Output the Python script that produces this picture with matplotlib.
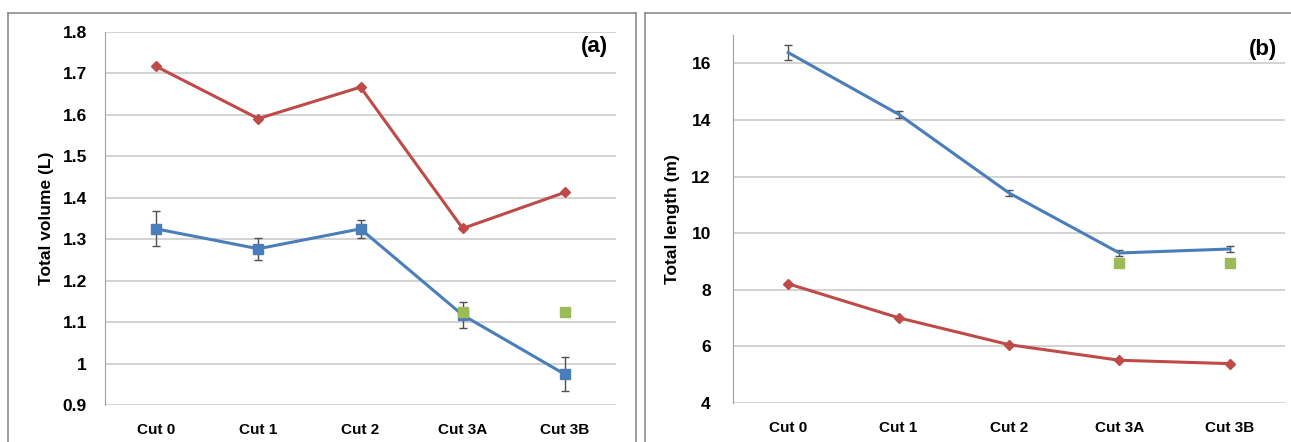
import matplotlib
matplotlib.use("Agg")
import matplotlib.pyplot as plt
from matplotlib.lines import Line2D
import numpy as np

cats = ["Cut 0", "Cut 1", "Cut 2", "Cut 3A", "Cut 3B"]

vol_red = [1.717, 1.591, 1.667, 1.326, 1.413]
vol_blue = [1.325, 1.277, 1.325, 1.117, 0.974]
vol_blue_err = [0.042, 0.027, 0.022, 0.031, 0.041]
vol_green = [None, None, None, 1.125, 1.125]

len_red = [8.21, 7.01, 6.06, 5.51, 5.39]
len_blue = [16.38, 14.2, 11.42, 9.30, 9.44]
len_blue_err = [0.26, 0.12, 0.10, 0.12, 0.12]
len_green = [None, None, None, 8.94, 8.94]

RED = "#BE4B48"
BLUE = "#4A7EBB"
GREEN = "#9BBB59"
GRID = "#D0D0D0"

plt.rcParams['font.family'] = ['Liberation Sans', 'DejaVu Sans']
W, H = 1291, 442
fig = plt.figure(figsize=(W/100, H/100), dpi=100)

def px_axes(l, t, r, b):
    return fig.add_axes([l/W, 1 - b/H, (r-l)/W, (b-t)/H])

# panel borders
for (x0, x1) in [(8, 636), (645, 1291)]:
    fig.add_artist(Line2D([x0/W, x1/W], [1-13/H, 1-13/H], color="#8C8C8C", lw=1.2, transform=fig.transFigure))
    fig.add_artist(Line2D([x0/W, x0/W], [0, 1-13/H], color="#8C8C8C", lw=1.2, transform=fig.transFigure))
fig.add_artist(Line2D([636/W, 636/W], [0, 1-13/H], color="#8C8C8C", lw=1.2, transform=fig.transFigure))

def style(ax, ylim, yticks, ylabel, labeltxt, fmt, ypad, lpad):
    x = np.arange(len(cats))
    ax.set_xlim(-0.5, len(cats)-0.5)
    ax.set_ylim(*ylim)
    ax.set_yticks(yticks)
    ax.set_yticklabels([fmt(v) for v in yticks], fontweight='bold', fontsize=12.5)
    ax.set_xticks(x)
    ax.set_xticklabels(cats, fontweight='bold', fontsize=11)
    ax.tick_params(axis='y', length=0, pad=ypad)
    ax.tick_params(axis='x', length=0, pad=13)
    for t in yticks:
        ax.axhline(t, color=GRID, lw=1.3, zorder=0)
    for s in ['top', 'right', 'bottom']:
        ax.spines[s].set_visible(False)
    ax.spines['left'].set_color("#A0A0A0")
    ax.set_ylabel(ylabel, fontweight='bold', fontsize=12.5, labelpad=lpad)
    ax.text(0.985, 0.99, labeltxt, transform=ax.transAxes, ha='right', va='top',
            fontweight='bold', fontsize=16)

# panel (a)
ax1 = px_axes(105, 32, 616, 405)
x = np.arange(len(cats))
ax1.plot(x, vol_red, color=RED, lw=2.2, marker='D', ms=5, zorder=3)
ax1.errorbar(x, vol_blue, yerr=vol_blue_err, color=BLUE, lw=2.2, marker='s', ms=6.5,
             ecolor="#505050", elinewidth=1, capsize=3, zorder=3)
gx = [i for i, v in enumerate(vol_green) if v is not None]
gy = [v for v in vol_green if v is not None]
ax1.plot(gx, gy, ls='none', marker='s', ms=6.5, color=GREEN, zorder=4)
style(ax1, (0.9, 1.8), [0.9, 1.0, 1.1, 1.2, 1.3, 1.4, 1.5, 1.6, 1.7, 1.8],
      "Total volume (L)", "(a)", lambda v: ("%g" % round(v, 1)), 13, 6)

# panel (b)
ax2 = px_axes(733, 35, 1285, 403)
ax2.plot(x, len_red, color=RED, lw=2.2, marker='D', ms=5, zorder=3)
ax2.errorbar(x, len_blue, yerr=len_blue_err, color=BLUE, lw=2.2, marker='none',
             ecolor="#505050", elinewidth=1, capsize=3, zorder=3)
gx = [i for i, v in enumerate(len_green) if v is not None]
gy = [v for v in len_green if v is not None]
ax2.plot(gx, gy, ls='none', marker='s', ms=6.5, color=GREEN, zorder=4)
style(ax2, (4, 17), [4, 6, 8, 10, 12, 14, 16],
      "Total length (m)", "(b)", lambda v: "%d" % v, 16, 8)

fig.savefig("out.png", dpi=100)
